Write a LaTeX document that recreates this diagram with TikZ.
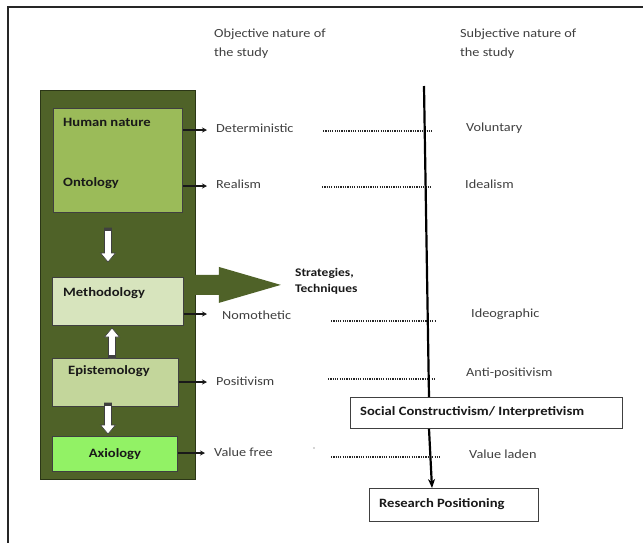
\documentclass[tikz,border=0pt]{standalone}
\usepackage{fontspec}
\setmainfont{Carlito}[FakeStretch=1.15]
\usetikzlibrary{arrows.meta}
\definecolor{dkgreen}{HTML}{4F6228}
\definecolor{hgreen}{HTML}{9BBB59}
\definecolor{mgreen}{HTML}{D7E4BD}
\definecolor{egreen}{HTML}{C3D69B}
\definecolor{agreen}{HTML}{92F265}
\definecolor{txtgray}{HTML}{404040}
\tikzset{
  lbl/.style={anchor=west, inner sep=0pt, text=txtgray, font=\fontsize{12.4}{14}\selectfont},
  blbl/.style={anchor=west, inner sep=0pt, text=black!90, font=\bfseries\fontsize{12.7}{14}\selectfont},
  gbox/.style={draw=black!75, line width=0.8pt, anchor=north west, inner sep=0pt},
  wbox/.style={draw=black!75, line width=0.8pt, fill=white, anchor=north west, inner sep=0pt},
  smallarr/.style={-{Stealth[length=5pt,width=5pt]}, line width=1.1pt, black!90},
  dotline/.style={line width=1.2pt, black!85, dash pattern=on 1.2pt off 1.1pt},
  wharrow/.style={draw=black!75, line width=0.6pt, fill=white},
  capbar/.style={fill=black!75},
}
\begin{document}
\begin{tikzpicture}[x=1pt,y=-1pt]
\useasboundingbox (0,0) rectangle (643,542);
\fill[white] (0,0) rectangle (643,542);
\draw[line width=1.4pt, black!85] (8,545) -- (8,7) -- (646,7);

% headers
\node[lbl, anchor=north west, align=left, font=\fontsize{12.4}{19}\selectfont] (obj) at (214,29) {Objective nature of\\the study};
\node[lbl, anchor=north west, align=left, font=\fontsize{12.4}{19}\selectfont] (subj) at (460,29) {Subjective nature of\\the study};

% big frame
\node[draw=black!45!dkgreen, line width=0.8pt, fill=dkgreen, anchor=north west, minimum width=155pt, minimum height=389pt, inner sep=0pt] (frame) at (40,90) {};
\fill[dkgreen] ([xshift=-1pt,yshift=10pt]frame.east) -- ++(24,0) -- ++(0,-8) -- ++(62,18) -- ++(-62,18) -- ++(0,-8) -- ++(-24,0) -- cycle;
\node[anchor=west, align=left, inner sep=0pt, text=black!90, font=\bfseries\fontsize{11.7}{16}\selectfont] (strat) at (295,281) {Strategies,\\Techniques};

% inner boxes
\node[gbox, fill=hgreen, minimum width=129pt, minimum height=104pt] (hbox) at (53,108) {};
\node[gbox, fill=mgreen, minimum width=131pt, minimum height=48pt] (meth) at (52,277) {};
\node[gbox, fill=egreen, minimum width=126pt, minimum height=48pt] (epi) at (52,358) {};
\node[gbox, fill=agreen, minimum width=125pt, minimum height=35pt] (axi) at (52,436) {};

\node[blbl] (hn) at (63,122) {Human nature};
\node[blbl] (onto) at (63,183) {Ontology};
\node[blbl] (methl) at (63,293) {Methodology};
\node[blbl] (epil) at (68,371) {Epistemology};
\node[blbl, anchor=center] (axil) at (axi.center) {Axiology};

% white block arrows
\draw[wharrow] (104.5,228) -- (111.5,228) -- (111.5,253) -- (115.5,253) -- (108,262) -- (100.5,253) -- (104.5,253) -- cycle;
\fill[capbar] (104.5,228) rectangle (111.5,231);
\draw[wharrow] (108.5,358) -- (108.5,337) -- (104.5,337) -- (112,328) -- (119.5,337) -- (115.5,337) -- (115.5,358) -- cycle;
\fill[capbar] (108.5,355) rectangle (115.5,358);
\draw[wharrow] (104.5,403) -- (111.5,403) -- (111.5,425) -- (115.5,425) -- (108,434) -- (100.5,425) -- (104.5,425) -- cycle;
\fill[capbar] (104.5,403) rectangle (111.5,406);

% left labels
\node[lbl] (det) at (216,128) {Deterministic};
\node[lbl] (real) at (216,184) {Realism};
\node[lbl] (nomo) at (222,315) {Nomothetic};
\node[lbl] (posi) at (216,381) {Positivism};
\node[lbl] (vfree) at (214,452) {Value free};

% right labels
\node[lbl] (vol) at (466,128) {Voluntary};
\node[lbl] (ideal) at (465,184) {Idealism};
\node[lbl] (ideo) at (471,314) {Ideographic};
\node[lbl] (anti) at (466,373) {Anti-positivism};
\node[lbl] (vladen) at (469,454) {Value laden};

% small arrows
\draw[smallarr] (hbox.east |- 0,130) -- (207,130);
\draw[smallarr] (hbox.east |- 0,186) -- (207,186);
\draw[smallarr] (meth.east |- 0,314) -- (207,314);
\draw[smallarr] (epi.east |- 0,382) -- (207,382);
\draw[smallarr] (axi.east |- 0,453) -- (205,453);

% dotted lines
\draw[dotline] (323,131) -- (433,131);
\draw[dotline] (322,187) -- (432,187);
\draw[dotline] (331,321) -- (436,321);
\draw[dotline] (328,379) -- (436,379);
\draw[dotline] (331,457) -- (441,457);
\fill[black!70] (314,448) circle (0.7pt);

% right boxes
\node[wbox, minimum width=272pt, minimum height=31pt] (sc) at (350,397) {};
\node[blbl] (scl) at (360,412) {Social Constructivism/ Interpretivism};
\node[wbox, minimum width=169pt, minimum height=33pt] (rp) at (369,488) {};
\node[blbl] (rpl) at (379,504) {Research Positioning};

% vertical line
\coordinate (vtop) at (424,86);
\draw[line width=2.2pt, black] (vtop) -- ([xshift=79pt]sc.north west);
\draw[line width=2.2pt, black, -{Stealth[length=9pt,width=7pt]}] ([xshift=79pt]sc.south west) -- ([xshift=63pt]rp.north west);
\end{tikzpicture}
\end{document}
